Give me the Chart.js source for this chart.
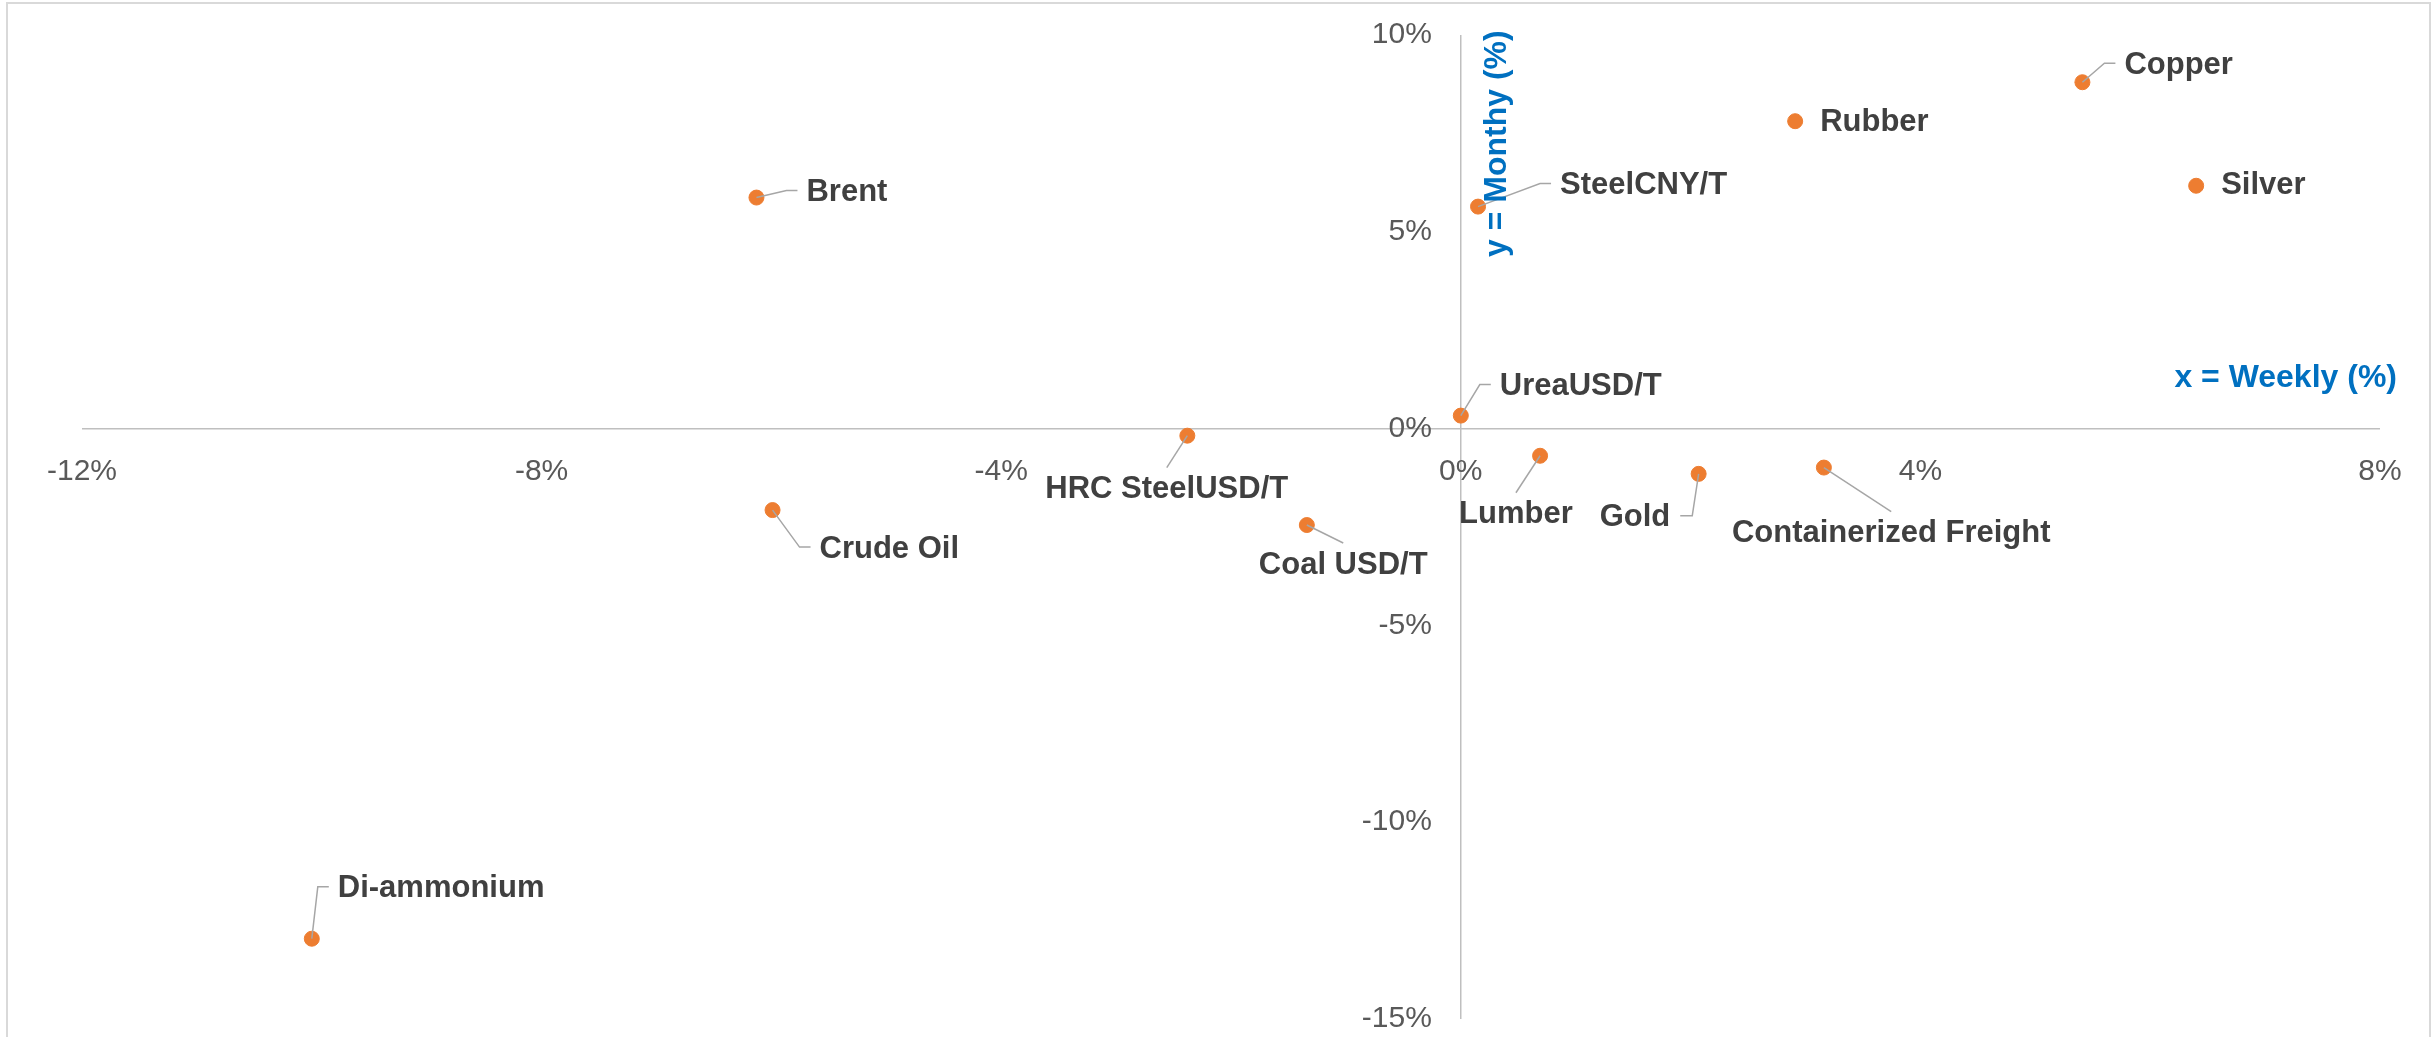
<!DOCTYPE html>
<html>
<head>
<meta charset="utf-8">
<script src="https://cdn.jsdelivr.net/npm/chart.js@4.4.1/dist/chart.umd.min.js"></script>
<style>
  html, body { margin: 0; padding: 0; background: #fff; }
  #wrap { width: 2435px; height: 1037px; position: relative; }
</style>
</head>
<body>
<div id="wrap"><canvas id="grafica"></canvas></div>
<script>
// datos: variacion semanal (x) y mensual (y), en %
const commodities = ["Copper", "Silver", "Rubber", "SteelCNY/T", "Brent", "UreaUSD/T",
  "HRC SteelUSD/T", "Lumber", "Gold", "Containerized Freight", "Coal USD/T", "Crude Oil", "Di-ammonium"];
const weeklyChange = [5.41, 6.40, 2.91, 0.15, -6.13, 0.00, -2.38, 0.69, 2.07, 3.16, -1.34, -5.99, -10.0];
const monthlyChange = [8.80, 6.17, 7.81, 5.64, 5.87, 0.33, -0.18, -0.69, -1.15, -0.99, -2.45, -2.07, -12.96];
const xTickValues = [-12, -8, -4, 0, 4, 8];
const yTickValues = [-15, -10, -5, 0, 5, 10];

// posicion de cada etiqueta respecto al punto (px): borde izquierdo, centro vertical
const labelOffsets = [[42, -17], [25, 0], [25, 1], [82, -21], [50, -5], [39, -29],
  [-142, 54], [-81, 59], [-99, 44], [-92, 66], [-48, 40], [47, 39], [26, -50]];

const FAMILY = "'Liberation Sans', Arial, sans-serif";
const LABEL_FONT = "bold 31px " + FAMILY;
const TITLE_FONT = "bold 32px " + FAMILY;
const TICK_FONT = "30px " + FAMILY;

const puntos = weeklyChange.map((x, i) => ({ x: x, y: monthlyChange[i] }));

const marco = {
  id: "marco",
  beforeDraw(chart) {
    const ctx = chart.ctx;
    ctx.save();
    ctx.strokeStyle = "#d9d9d9";
    ctx.lineWidth = 2;
    ctx.strokeRect(7, 3, chart.width - 12, chart.height + 20);
    ctx.restore();
  }
};

const etiquetas = {
  id: "etiquetas",
  afterDatasetsDraw(chart) {
    const ctx = chart.ctx;
    const xs = chart.scales.x, ys = chart.scales.y;
    const meta = chart.getDatasetMeta(0);
    ctx.save();

    // etiquetas del eje y, a la izquierda de la linea vertical
    ctx.font = TICK_FONT;
    ctx.fillStyle = "#595959";
    ctx.textAlign = "right";
    ctx.textBaseline = "middle";
    yTickValues.forEach(v => {
      ctx.fillText(v + "%", xs.getPixelForValue(0) - 29, ys.getPixelForValue(v));
    });

    ctx.font = LABEL_FONT;
    ctx.textAlign = "left";
    meta.data.forEach((pt, i) => {
      const [dx, dy] = labelOffsets[i];
      const txt = commodities[i];
      const w = ctx.measureText(txt).width;
      const L = pt.x + dx, R = L + w, cy = pt.y + dy;
      const cerca = pt.x > L - 30 && pt.x < R + 30 && Math.abs(dy) < 20;
      if (!cerca) {
        ctx.strokeStyle = "#a6a6a6";
        ctx.lineWidth = 1.5;
        ctx.beginPath();
        ctx.moveTo(pt.x, pt.y);
        if (pt.x >= L && pt.x <= R) {
          ctx.lineTo(L + w / 2, dy > 0 ? cy - 22 : cy + 22);
        } else if (pt.x < L) {
          ctx.lineTo(L - 20, cy - 2);
          ctx.lineTo(L - 9, cy - 2);
        } else {
          ctx.lineTo(R + 22, cy - 2);
          ctx.lineTo(R + 10, cy - 2);
        }
        ctx.stroke();
      }
      ctx.fillStyle = "#404040";
      ctx.fillText(txt, L, cy);
    });

    // titulos de ejes
    ctx.fillStyle = "#0070c0";
    ctx.font = TITLE_FONT;
    ctx.textAlign = "right";
    ctx.fillText("x = Weekly (%)", chart.chartArea.right + 17, ys.getPixelForValue(0) - 50);
    ctx.translate(xs.getPixelForValue(0) + 36, ys.getPixelForValue(10) + 222);
    ctx.rotate(-Math.PI / 2);
    ctx.textAlign = "left";
    ctx.fillText("y = Monthy (%)", 0, 0);
    ctx.restore();
  }
};

const ejeCero = c => (c.tick && c.tick.value === 0) ? "#bfbfbf" : "rgba(0,0,0,0)";

new Chart(document.getElementById("grafica"), {
  type: "scatter",
  data: {
    datasets: [{
      label: "Commodities",
      data: puntos,
      backgroundColor: "#ed7d31",
      borderColor: "#ed7d31",
      pointRadius: 7.5,
      pointHoverRadius: 7.5
    }]
  },
  options: {
    responsive: true,
    maintainAspectRatio: false,
    animation: false,
    layout: { autoPadding: false, padding: { left: 82, right: 55, top: 35, bottom: 18 } },
    plugins: {
      legend: { display: false },
      tooltip: { enabled: false }
    },
    scales: {
      x: {
        type: "linear",
        min: -12,
        max: 8,
        position: { y: 0 },
        afterBuildTicks: s => { s.ticks = xTickValues.map(v => ({ value: v })); },
        ticks: {
          callback: v => v + "%",
          color: "#595959",
          font: { family: FAMILY, size: 30 },
          padding: 25,
          maxRotation: 0,
          autoSkip: false
        },
        grid: { color: ejeCero, lineWidth: 1.5, drawTicks: false },
        border: { display: false }
      },
      y: {
        type: "linear",
        min: -15,
        max: 10,
        position: { x: 0 },
        afterBuildTicks: s => { s.ticks = yTickValues.map(v => ({ value: v })); },
        ticks: { display: false },
        grid: { color: ejeCero, lineWidth: 1.5, drawTicks: false },
        border: { display: false }
      }
    }
  },
  plugins: [marco, etiquetas]
});
</script>
</body>
</html>
